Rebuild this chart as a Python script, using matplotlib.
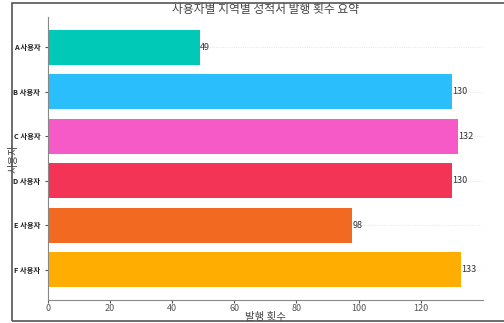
import matplotlib
matplotlib.use("Agg")
import matplotlib.pyplot as plt
from matplotlib.patches import Rectangle

plt.rcParams['font.family'] = ['Noto Sans CJK KR', 'DejaVu Sans']

users = ['A 사용자', 'B 사용자', 'C 사용자', 'D 사용자', 'E 사용자', 'F 사용자']
counts = [49, 130, 132, 130, 98, 133]
colors = ['#00C9B8', '#2BBEFD', '#F55AC6', '#F43457', '#F26A22', '#FFAD00']

px = 1 / 100
fig = plt.figure(figsize=(504 * px, 323 * px), dpi=100)
ax = fig.add_axes([0.095, 0.071, 0.863, 0.876])

bars = ax.barh(users, counts, color=colors, height=0.78, zorder=2)
ax.invert_yaxis()

for rect, v in zip(bars, counts):
    ax.text(rect.get_width(), rect.get_y() + rect.get_height() / 2, f'{v}',
            ha='left', va='center', fontsize=6.5, color='#333333')

ax.set_xlim(0, 140)
ax.set_xticks(range(0, 140, 20))
ax.tick_params(axis='x', labelsize=6.5, colors='#555555', length=2, pad=1)
ax.tick_params(axis='y', labelsize=5.3, length=2, colors='#555555')
for lbl in ax.get_yticklabels():
    lbl.set_fontweight('bold')
    lbl.set_color('#222222')
ax.grid(axis='y', color='#dddddd', linewidth=0.6, linestyle=':', zorder=0)
ax.spines['top'].set_visible(False)
ax.spines['right'].set_visible(False)
ax.spines['left'].set_color('#888888')
ax.spines['bottom'].set_color('#888888')

ax.set_title('사용자별 지역별 성적서 발행 횟수 요약', fontsize=8.5, color='#444444', pad=3)
ax.set_xlabel('발행 횟수', fontsize=7.5, color='#444444', labelpad=-1)
ax.set_ylabel('사용자', fontsize=7.5, color='#444444', labelpad=-4)

fig.patches.append(Rectangle((12 / 504, 2 / 323), 1.0, 1 - 5 / 323,
                             transform=fig.transFigure, fill=False,
                             edgecolor='#555555', linewidth=1.2))

fig.savefig('out.png', dpi=100)
